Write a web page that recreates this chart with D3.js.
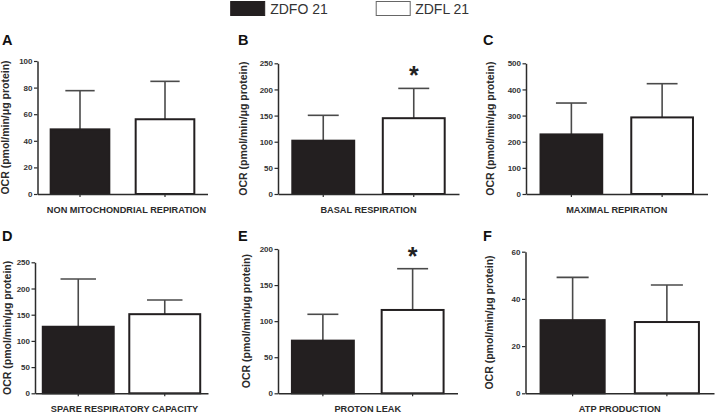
<!DOCTYPE html>
<html>
<head>
<meta charset="utf-8">
<script src="https://cdn.jsdelivr.net/npm/d3@7"></script>
<style>
  html, body { margin: 0; padding: 0; background: #fff; }
  svg { display: block; font-family: "Liberation Sans", Arial, sans-serif; }
</style>
</head>
<body>
<svg id="chart" width="716" height="416"></svg>
<script>
// ---- data ----
const panelLetters = ["A", "B", "C", "D", "E", "F"];
const categories = ["NON MITOCHONDRIAL REPIRATION", "BASAL RESPIRATION", "MAXIMAL REPIRATION",
                    "SPARE RESPIRATORY CAPACITY", "PROTON LEAK", "ATP PRODUCTION"];
const groups = ["ZDFO 21", "ZDFL 21"];
const zdfoMean = [48.6, 102, 228, 127, 73, 31];
const zdfoErr  = [29.1, 48.5, 120, 91, 36.5, 18.1];
const zdflMean = [56.2, 145, 293, 151, 115.5, 30.2];
const zdflErr  = [28.5, 57, 129, 27, 57.2, 15.7];
const yMax     = [100, 250, 500, 250, 200, 60];
const yTickStep = [20, 50, 100, 50, 50, 20];
const zdflSignificant = [false, true, false, false, true, false];
const yLabel = "OCR (pmol/min/\u03bcg protein)";

// ---- layout ----
const frames = [
  {x0: 37.5, x1: 207.5, top: 61,    bottom: 194,   pad: 0.31,  lx: 5,     px: 2,   py: 45,  cx: 4},
  {x0: 278,  x1: 459,   top: 63.3,  bottom: 194,   pad: 0.316, lx: 243,   px: 238, py: 45,  cx: 0},
  {x0: 526,  x1: 707.5, top: 63.3,  bottom: 194,   pad: 0.32,  lx: 490,   px: 483, py: 45,  cx: 0},
  {x0: 35,   x1: 208,   top: 262.3, bottom: 393.3, pad: 0.18,  lx: 6.5,   px: 2,   py: 241, cx: 3},
  {x0: 278,  x1: 457.5, top: 249,   bottom: 393.3, pad: 0.31,  lx: 245.5, px: 238, py: 241, cx: 0},
  {x0: 525.5,x1: 714,   top: 251.7, bottom: 393.3, pad: 0.32,  lx: 488.5, px: 483, py: 241, cx: 0}
];
const fills = ["#231f20", "#ffffff"];
const ink = "#2b2b2b";

const svg = d3.select("#chart");

// legend
const legend = svg.append("g");
const legX = [230.7, 375.7];
groups.forEach((g, i) => {
  legend.append("rect")
    .attr("x", legX[i] + (i ? 0.5 : 0)).attr("y", 1.5)
    .attr("width", 34).attr("height", 14)
    .attr("fill", fills[i])
    .attr("stroke", i ? "#666" : fills[0]).attr("stroke-width", 1);
  legend.append("text")
    .attr("x", legX[i] + 39.5).attr("y", 13.5)
    .attr("font-size", 14).attr("fill", "#333")
    .text(g);
});

panelLetters.forEach((letter, i) => {
  const f = frames[i];
  const g = svg.append("g");
  const y = d3.scaleLinear().domain([0, yMax[i]]).range([f.bottom, f.top]);
  const x = d3.scaleBand().domain(groups).range([f.x0, f.x1])
    .paddingInner(f.pad).paddingOuter(f.pad / 2);

  const ticks = d3.range(0, yMax[i] + 1e-9, yTickStep[i]);

  const means = [zdfoMean[i], zdflMean[i]];
  const errs = [zdfoErr[i], zdflErr[i]];

  // error bars (upper only)
  groups.forEach((grp, j) => {
    const cx = x(grp) + x.bandwidth() / 2;
    const top = y(means[j] + errs[j]);
    g.append("line")
      .attr("x1", cx).attr("x2", cx)
      .attr("y1", y(means[j])).attr("y2", top)
      .attr("stroke", "#4a4a4a").attr("stroke-width", 1.6);
    g.append("line")
      .attr("x1", cx - x.bandwidth() / 4).attr("x2", cx + x.bandwidth() / 4)
      .attr("y1", top).attr("y2", top)
      .attr("stroke", "#4a4a4a").attr("stroke-width", 1.6);
  });

  // bars
  groups.forEach((grp, j) => {
    g.append("rect")
      .attr("x", x(grp)).attr("y", y(means[j]))
      .attr("width", x.bandwidth())
      .attr("height", y(0) - y(means[j]))
      .attr("fill", fills[j])
      .attr("stroke", "#231f20").attr("stroke-width", 2);
  });

  // significance star
  if (zdflSignificant[i]) {
    const cx = x(groups[1]) + x.bandwidth() / 2;
    g.append("text")
      .attr("x", cx).attr("y", y(zdflMean[i] + zdflErr[i]) - 4)
      .attr("text-anchor", "middle")
      .attr("font-size", 25).attr("font-weight", "bold").attr("fill", "#222")
      .text("*");
  }

  // y axis
  const yAxis = d3.axisLeft(y).tickValues(ticks).tickSize(3.5).tickSizeOuter(0).tickPadding(1.5);
  const ya = g.append("g").attr("transform", `translate(${f.x0},0)`).call(yAxis);
  ya.select(".domain").attr("stroke", ink).attr("stroke-width", 1.5);
  ya.selectAll(".tick line").attr("stroke", ink).attr("stroke-width", 1.2);
  ya.selectAll(".tick text").attr("font-size", 8).attr("font-weight", "bold").attr("fill", "#333")
    .attr("font-family", "Liberation Sans, Arial, sans-serif");

  // x axis
  const xAxis = d3.axisBottom(x).tickSize(3).tickSizeOuter(0).tickFormat("");
  const xa = g.append("g").attr("transform", `translate(0,${f.bottom})`).call(xAxis);
  xa.select(".domain").attr("stroke", ink).attr("stroke-width", 1.5);
  xa.selectAll(".tick line").attr("stroke", ink).attr("stroke-width", 1.2);

  // category label
  g.append("text")
    .attr("x", (f.x0 + f.x1) / 2 + f.cx).attr("y", f.bottom + 19)
    .attr("text-anchor", "middle")
    .attr("font-size", 9.2).attr("font-weight", "bold").attr("fill", "#2b2b2b")
    .text(categories[i]);

  // y label
  g.append("text")
    .attr("transform", `translate(${f.lx},${(f.top + f.bottom) / 2}) rotate(-90)`)
    .attr("text-anchor", "middle").attr("dominant-baseline", "central")
    .attr("font-size", 10.5).attr("font-weight", "bold").attr("fill", "#2b2b2b")
    .text(yLabel);

  // panel letter
  g.append("text")
    .attr("x", f.px).attr("y", f.py)
    .attr("font-size", 14.5).attr("font-weight", "bold").attr("fill", "#111")
    .text(letter);
});
</script>
</body>
</html>
